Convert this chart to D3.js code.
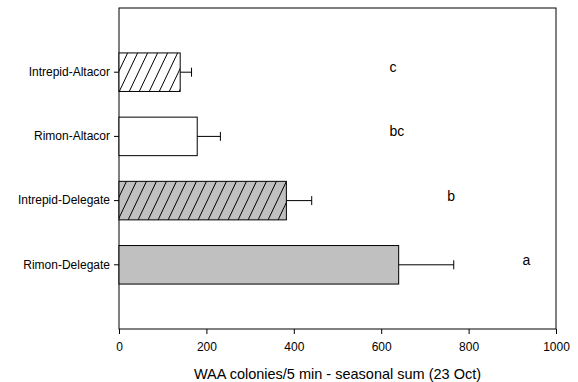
<!DOCTYPE html>
<html>
<head>
<meta charset="utf-8">
<script src="https://cdn.jsdelivr.net/npm/d3@7"></script>
<style>
    body { margin: 0; background: #fff; }
    text { font-family: "Liberation Sans", Arial, sans-serif; fill: #000; }
</style>
</head>
<body>
<div class="bar-chart-container"></div>
<script>
// values
let treatments = ["Intrepid-Altacor", "Rimon-Altacor", "Intrepid-Delegate", "Rimon-Delegate"]
let means = [140, 179, 383, 640]
let errs = [26, 53, 58, 126]
let letters = ["c", "bc", "b", "a"]
let letterPos = [627, 636, 760, 932]
let hatched = [true, false, true, false]
let fills = ["#ffffff", "#ffffff", "#c0c0c0", "#c0c0c0"]
let xTicks = [0, 200, 400, 600, 800, 1000]

const margin = { top: 8, right: 22, bottom: 53, left: 119 }
const width = 578 - margin.left - margin.right;
const height = 382 - margin.top - margin.bottom;

const data = treatments.map((t, i) => ({
    name: t, mean: means[i], err: errs[i], letter: letters[i],
    lx: letterPos[i], hatch: hatched[i], fill: fills[i]
}))

const xScale = d3.scaleLinear()
    .domain([0, 1000])
    .range([0, width])

const yScale = d3.scaleBand()
    .domain(treatments)
    .range([height / 10, height - height / 10])
    .paddingInner(0.4)
    .paddingOuter(0.2)

const svg = d3.select('.bar-chart-container')
    .append('svg')
    .attr('width', 578)
    .attr('height', 382)

const defs = svg.append('defs')

// hatch patterns, one per fill colour ("/" lines, ~10px apart)
const hw = 10, hh = 21
fills.forEach((c, i) => {
    const p = defs.append('pattern')
        .attr('id', 'hatch' + i)
        .attr('patternUnits', 'userSpaceOnUse')
        .attr('width', hw)
        .attr('height', hh)
    p.append('rect').attr('width', hw).attr('height', hh).attr('fill', c)
    p.selectAll('line')
        .data([-hw, 0, hw])
        .join('line')
        .attr('x1', d => d).attr('y1', hh)
        .attr('x2', d => d + hw).attr('y2', 0)
        .attr('stroke', '#000').attr('stroke-width', 1)
})

const g = svg.append('g')
    .attr('transform', `translate(${margin.left}, ${margin.top})`);

// frame
g.append('rect')
    .attr('width', width)
    .attr('height', height)
    .attr('fill', 'none')
    .attr('stroke', '#000')
    .attr('stroke-width', 1)

// bars
g.append('g')
    .selectAll('rect')
    .data(data)
    .join('rect')
    .attr('x', 0)
    .attr('y', d => yScale(d.name))
    .attr('width', d => xScale(d.mean))
    .attr('height', yScale.bandwidth())
    .attr('fill', (d, i) => d.hatch ? `url(#hatch${i})` : d.fill)
    .attr('stroke', '#000')
    .attr('stroke-width', 1)

// error bars (positive side only)
const eb = g.append('g')
    .selectAll('g')
    .data(data)
    .join('g')
    .attr('stroke', '#000')
    .attr('stroke-width', 1)

eb.append('line')
    .attr('x1', d => xScale(d.mean))
    .attr('x2', d => xScale(d.mean + d.err))
    .attr('y1', d => yScale(d.name) + yScale.bandwidth() / 2)
    .attr('y2', d => yScale(d.name) + yScale.bandwidth() / 2)

eb.append('line')
    .attr('x1', d => xScale(d.mean + d.err))
    .attr('x2', d => xScale(d.mean + d.err))
    .attr('y1', d => yScale(d.name) + yScale.bandwidth() / 2 - 4.5)
    .attr('y2', d => yScale(d.name) + yScale.bandwidth() / 2 + 4.5)

// significance letters
g.append('g')
    .selectAll('text')
    .data(data)
    .join('text')
    .attr('x', d => xScale(d.lx))
    .attr('y', d => yScale(d.name) + yScale.bandwidth() / 2 - 5)
    .attr('text-anchor', 'middle')
    .attr('dominant-baseline', 'central')
    .style('font-size', '14px')
    .text(d => d.letter)

// axes
const xAxis = d3.axisBottom(xScale)
    .tickValues(xTicks)
    .tickFormat(d3.format('d'))
    .tickSizeInner(5)
    .tickSizeOuter(0)
    .tickPadding(8)

const xAxisDraw = g.append('g')
    .attr('transform', `translate(0, ${height})`)
    .call(xAxis)

const yAxis = d3.axisLeft(yScale).tickSizeInner(5).tickSizeOuter(0).tickPadding(4)

const yAxisDraw = g.append('g').call(yAxis)

;[xAxisDraw, yAxisDraw].forEach(a => {
    a.select('.domain').remove()
    a.selectAll('line').attr('stroke', '#000')
    a.selectAll('text')
        .style('font-family', '"Liberation Sans", Arial, sans-serif')
        .style('font-size', '12px')
        .attr('fill', '#000')
})

g.append('text')
    .attr('x', width / 2)
    .attr('y', height + 50)
    .attr('text-anchor', 'middle')
    .style('font-size', '14.5px')
    .text('WAA colonies/5 min - seasonal sum (23 Oct)')
</script>
</body>
</html>
